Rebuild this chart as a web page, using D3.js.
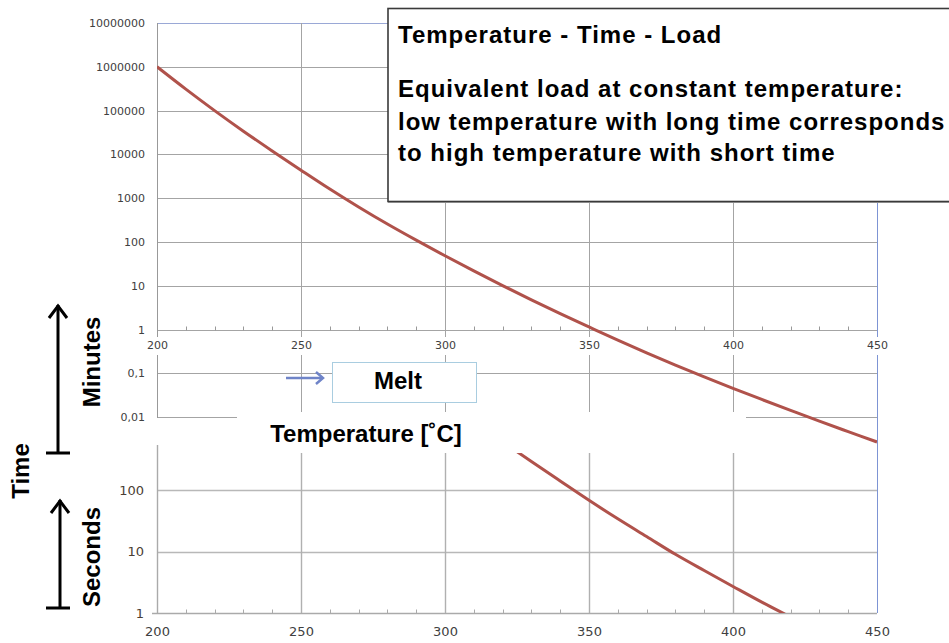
<!DOCTYPE html>
<html><head><meta charset="utf-8">
<script src="https://cdn.jsdelivr.net/npm/d3@7"></script>
<style>body{margin:0;background:#fff}svg{display:block}</style>
</head><body><svg id="c" width="949" height="643"></svg>
<script>
// ---- data ----
const temps   = [200,210,220,230,240,250,260,270,280,290,300,310,320,330,340,350,360,370,380,390,400,410,420,430,440,450];
const minutes = [1000000,309000,100000,33900,12000,4370,1620,631,257,110,48.4,21.9,10.1,4.79,2.32,1.15,0.575,0.295,0.155,0.083,0.0457,0.0254,0.0143,0.0081,0.00468,0.00272];
const secTemps = [310,320,330,340,350,360,370,380,390,400,410,420];
const seconds  = [1300,610,290,140,68,34,17.5,9.0,4.9,2.7,1.5,0.86];
const xTicks = [200,250,300,350,400,450];
const xMinor = [210,220,230,240,260,270,280,290,310,320,330,340,360,370,380,390,410,420,430,440];
const topYTicks  = [10000000,1000000,100000,10000,1000,100,10,1,0.1,0.01];
const topYLabels = ["10000000","1000000","100000","10000","1000","100","10","1","0,1","0,01"];
const botYTicks  = [1,10,100];
const botYLabels = ["1","10","100"];
const titleText = "Temperature - Time - Load";
const bodyLines = ["Equivalent load at constant temperature:","low temperature with long time corresponds","to high temperature with short time"];
const xLabel = "Temperature [˚C]";

// ---- drawing ----
const svg = d3.select("#c");
const SANS = "'Liberation Sans', Arial, Helvetica, sans-serif";
const TICKF = "'DejaVu Sans', Verdana, sans-serif";
const gridC = "#a4a4a4", blueC = "#7d94d4", curveC = "#b0524b";

const x = d3.scaleLinear().domain([200,450]).range([157,877]);
const yTop = d3.scaleLog().domain([0.001,1e7]).range([461,23]);
const yBot = d3.scaleLog().domain([1,1000]).range([613,428.5]);

const defs = svg.append("defs");
defs.append("clipPath").attr("id","topClip").append("rect").attr("x",157).attr("y",23).attr("width",720).attr("height",422);
defs.append("clipPath").attr("id","botClip").append("rect").attr("x",157).attr("y",453).attr("width",720).attr("height",160);

// ===== top chart =====
const gTop = svg.append("g");
gTop.selectAll("line.hg").data(topYTicks).join("line")
  .attr("x1",157).attr("x2",877)
  .attr("y1",d=>Math.round(yTop(d))+0.5).attr("y2",d=>Math.round(yTop(d))+0.5)
  .attr("stroke",(d,i)=>i===0?"#9aa8d6":gridC).attr("stroke-width",1);
gTop.selectAll("line.vg").data(xTicks.slice(1,-1)).join("line")
  .attr("x1",d=>Math.round(x(d))+0.5).attr("x2",d=>Math.round(x(d))+0.5)
  .attr("y1",23).attr("y2",413).attr("stroke",gridC);
gTop.append("line").attr("x1",157.5).attr("x2",157.5).attr("y1",23).attr("y2",418).attr("stroke","#999");
gTop.append("line").attr("x1",877.5).attr("x2",877.5).attr("y1",23).attr("y2",445).attr("stroke",blueC);
gTop.selectAll("line.mt").data(xMinor).join("line")
  .attr("x1",d=>Math.round(x(d))+0.5).attr("x2",d=>Math.round(x(d))+0.5)
  .attr("y1",Math.round(yTop(1))-3.5).attr("y2",Math.round(yTop(1))+0.5).attr("stroke","#999");

const lineTop = d3.line().x((d,i)=>x(temps[i])).y(d=>yTop(d)).curve(d3.curveCatmullRom.alpha(0.5));
gTop.append("path").datum(minutes).attr("d",lineTop).attr("clip-path","url(#topClip)")
  .attr("fill","none").attr("stroke",curveC).attr("stroke-width",3).attr("stroke-linejoin","round");

const yAxT = gTop.append("g").attr("transform","translate(145,0)")
  .call(d3.axisLeft(yTop).tickValues(topYTicks).tickFormat((d,i)=>topYLabels[i]).tickSize(0).tickPadding(0));
yAxT.select(".domain").remove();
yAxT.selectAll("text").attr("font-family",TICKF).attr("font-size",11).attr("fill","#404040");

const xAxT = gTop.append("g").attr("transform","translate(0,341)")
  .call(d3.axisBottom(x).tickValues(xTicks).tickSize(0).tickPadding(0));
xAxT.select(".domain").remove();
xAxT.selectAll(".tick").insert("rect","text").attr("x",-14).attr("y",-4).attr("width",28).attr("height",18).attr("fill","#fff");
xAxT.selectAll("text").attr("font-family",TICKF).attr("font-size",11).attr("fill","#404040");

// ===== bottom chart =====
const gBot = svg.append("g");
gBot.selectAll("line.hg").data(botYTicks.slice(1)).join("line")
  .attr("x1",157).attr("x2",877)
  .attr("y1",d=>Math.round(yBot(d))+0.5).attr("y2",d=>Math.round(yBot(d))+0.5)
  .attr("stroke","#b8b8b8").attr("stroke-width",1.4);
gBot.selectAll("line.vg").data(xTicks.slice(1,-1)).join("line")
  .attr("x1",d=>Math.round(x(d))+0.5).attr("x2",d=>Math.round(x(d))+0.5)
  .attr("y1",453).attr("y2",613).attr("stroke","#b0b0b0").attr("stroke-width",1.4);
gBot.append("line").attr("x1",157.5).attr("x2",157.5).attr("y1",445).attr("y2",613).attr("stroke","#aaa").attr("stroke-width",1.4);
gBot.append("line").attr("x1",877.5).attr("x2",877.5).attr("y1",445).attr("y2",613).attr("stroke",blueC);
gBot.append("line").attr("x1",152).attr("x2",877).attr("y1",613.5).attr("y2",613.5).attr("stroke","#aaa").attr("stroke-width",1.4);
gBot.selectAll("line.mt").data(xMinor).join("line")
  .attr("x1",d=>Math.round(x(d))+0.5).attr("x2",d=>Math.round(x(d))+0.5)
  .attr("y1",609.5).attr("y2",613.5).attr("stroke","#aaa");

const lineBot = d3.line().x((d,i)=>x(secTemps[i])).y(d=>yBot(d)).curve(d3.curveCatmullRom.alpha(0.5));
gBot.append("path").datum(seconds).attr("d",lineBot).attr("clip-path","url(#botClip)")
  .attr("fill","none").attr("stroke",curveC).attr("stroke-width",3).attr("stroke-linejoin","round");

const yAxB = gBot.append("g").attr("transform","translate(144,0)")
  .call(d3.axisLeft(yBot).tickValues(botYTicks).tickFormat((d,i)=>botYLabels[i]).tickSize(0).tickPadding(0));
yAxB.select(".domain").remove();
yAxB.selectAll("text").attr("font-family",TICKF).attr("font-size",13).attr("fill","#4a3e34");

const xAxB = gBot.append("g").attr("transform","translate(0,627)")
  .call(d3.axisBottom(x).tickValues(xTicks).tickSize(0).tickPadding(0));
xAxB.select(".domain").remove();
xAxB.selectAll("text").attr("font-family",TICKF).attr("font-size",13).attr("fill","#404040");

// ===== overlays =====
svg.append("rect").attr("x",237).attr("y",412).attr("width",509).attr("height",41).attr("fill","#fff");
svg.append("text").attr("x",366).attr("y",442).attr("text-anchor","middle")
  .attr("font-family",SANS).attr("font-weight","bold").attr("font-size",24).attr("fill","#000").text(xLabel);

// Melt box + arrow
svg.append("rect").attr("x",332.5).attr("y",362.5).attr("width",144).attr("height",40)
  .attr("fill","#fff").attr("stroke","#a9cde0").attr("stroke-width",1);
svg.append("text").attr("x",398).attr("y",389).attr("text-anchor","middle")
  .attr("font-family",SANS).attr("font-weight","bold").attr("font-size",24).attr("fill","#000").text("Melt");
svg.append("line").attr("x1",286).attr("x2",323).attr("y1",378).attr("y2",378).attr("stroke","#6f84c8").attr("stroke-width",2.5);
svg.append("polyline").attr("points","316,372 323,378 316,384").attr("fill","none").attr("stroke","#6f84c8").attr("stroke-width",2.5);

// Left arrows
const arrows = [{x:58, y0:453, y1:304},{x:60, y0:608, y1:499}];
arrows.forEach(a=>{
  svg.append("line").attr("x1",a.x).attr("x2",a.x).attr("y1",a.y0).attr("y2",a.y1+1).attr("stroke","#000").attr("stroke-width",3);
  svg.append("polyline").attr("points",`${a.x-9},${a.y1+14} ${a.x},${a.y1+2} ${a.x+9},${a.y1+14}`)
    .attr("fill","none").attr("stroke","#000").attr("stroke-width",3).attr("stroke-linejoin","miter");
  svg.append("line").attr("x1",46).attr("x2",70).attr("y1",a.y0).attr("y2",a.y0).attr("stroke","#000").attr("stroke-width",3);
});
const vlabels = [{t:"Time",x:29,y:471},{t:"Minutes",x:100,y:362},{t:"Seconds",x:100,y:557}];
vlabels.forEach(v=>{
  svg.append("text").attr("transform",`translate(${v.x},${v.y}) rotate(-90)`).attr("text-anchor","middle")
    .attr("font-family",SANS).attr("font-weight","bold").attr("font-size",24).attr("fill","#000").text(v.t);
});

// Title box
svg.append("rect").attr("x",388).attr("y",8.5).attr("width",620).attr("height",193)
  .attr("fill","#fff").attr("stroke","#3a3a3a").attr("stroke-width",1.6);
svg.append("line").attr("x1",388).attr("x2",949).attr("y1",202.5).attr("y2",202.5).attr("stroke","#8a8a8a").attr("stroke-width",1);
const tb = svg.append("g").attr("font-family",SANS).attr("font-weight","bold").attr("font-size",24).attr("fill","#000").attr("letter-spacing","1px");
tb.append("text").attr("x",398).attr("y",43).text(titleText);
const bodyY = [97,130,161];
tb.selectAll("text.b").data(bodyLines).join("text").attr("class","b").attr("x",398).attr("y",(d,i)=>bodyY[i]).text(d=>d);
</script></body></html>
